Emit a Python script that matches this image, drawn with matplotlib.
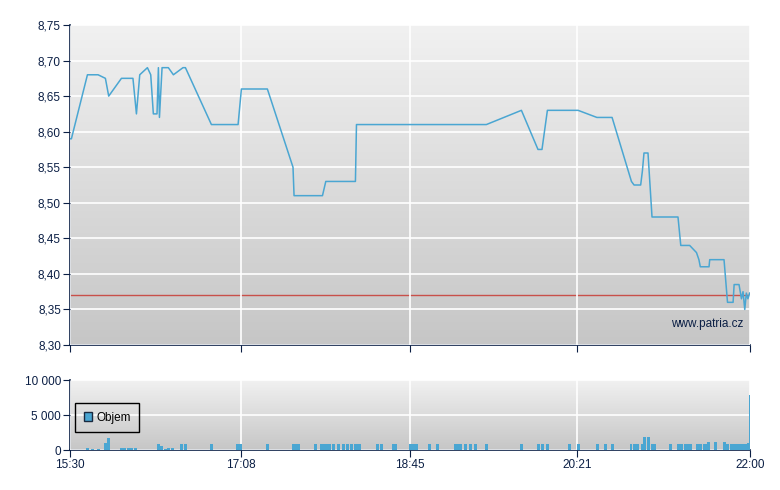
import matplotlib
matplotlib.use("Agg")
import matplotlib.pyplot as plt
import numpy as np
from matplotlib.patches import Patch

plt.rcParams['font.family'] = ['Liberation Sans', 'DejaVu Sans']

# price in minutes after 15:30
price_min = [0, 0.8, 10.0, 16.1, 20.3, 22.2, 29.5, 36.1, 38.1, 40.0, 44.4, 46.3, 47.8, 49.9,
             50.7, 51.3, 52.8, 56.4, 59.3, 64.8, 66.2, 81.1, 96.4, 98.3, 113.2, 127.9, 128.5,
             144.8, 146.7, 163.7, 164.3, 238.8, 258.9, 268.4, 270.7, 273.8, 291.4, 302.2,
             310.9, 322.0, 323.5, 327.3, 328.3, 329.2, 331.5, 333.8, 348.7, 350.3, 355.4,
             359.3, 360.7, 361.5, 366.5, 366.9, 375.1, 377.1, 380.3, 380.9, 383.7, 385.1,
             386.0, 387.0, 387.9, 388.8, 389.8]
price_val = [8.59, 8.59, 8.68, 8.68, 8.675, 8.65, 8.675, 8.675, 8.625, 8.68, 8.69, 8.68, 8.625, 8.625,
             8.69, 8.62, 8.69, 8.69, 8.68, 8.69, 8.69, 8.61, 8.61, 8.66, 8.66, 8.55, 8.51,
             8.51, 8.53, 8.53, 8.61, 8.61, 8.63, 8.575, 8.575, 8.63, 8.63, 8.62,
             8.62, 8.53, 8.525, 8.525, 8.545, 8.57, 8.57, 8.48, 8.48, 8.44, 8.44,
             8.43, 8.42, 8.41, 8.41, 8.42, 8.42, 8.36, 8.36, 8.385, 8.385, 8.365,
             8.375, 8.35, 8.373, 8.365, 8.373]
prev_close = 8.37

# volume bars (start minute, volume)
vol_min = [9.0, 11.9, 15.3, 19.3, 21.0, 28.5, 30.6, 32.6, 34.6, 36.6, 49.7, 51.4, 54.1, 55.6, 58.1,
           63.3, 65.2, 80.1, 95.4, 97.2, 112.2, 127.2, 128.9, 130.4, 139.8, 143.2, 145.0, 146.8,
           148.0, 150.5, 153.1, 155.8, 158.1, 160.4, 162.7, 164.4, 165.2, 175.3, 177.6, 184.5,
           185.9, 194.3, 196.0, 197.7, 205.2, 209.7, 220.1, 221.8, 223.3, 225.8, 228.7, 231.6,
           237.8, 257.9, 267.7, 270.0, 272.8, 285.4, 290.6, 301.5, 306.1, 310.1, 320.9, 322.7,
           324.9, 327.2, 328.9, 330.7, 333.0, 334.4, 343.3, 347.9, 349.6, 351.9, 353.6, 355.0,
           358.8, 360.6, 362.8, 364.2, 365.6, 369.1, 374.3, 376.1, 378.4, 380.2, 382.0, 383.8,
           385.6, 386.6, 388.1, 389.3]
vol_val = [300, 150, 150, 1050, 1700, 330, 330, 330, 330, 330, 860, 520, 150, 330, 330,
           900, 900, 900, 900, 900, 900, 900, 900, 900, 900, 900, 900, 900,
           900, 900, 900, 900, 900, 900, 900, 900, 900, 900, 900, 900,
           900, 900, 900, 900, 900, 900, 900, 900, 900, 900, 900, 900,
           900, 900, 900, 900, 900, 900, 900, 900, 900, 900, 900, 900,
           900, 900, 1850, 1850, 900, 900, 900, 900, 900, 900, 900, 900,
           900, 900, 900, 900, 1200, 1200, 1200, 900, 900, 900, 900, 900,
           900, 900, 1050, 7900]

tick_min = [0, 98, 195, 291, 390]
tick_lbl = ['15:30', '17:08', '18:45', '20:21', '22:00']
price_ticks = [8.30, 8.35, 8.40, 8.45, 8.50, 8.55, 8.60, 8.65, 8.70, 8.75]
vol_ticks = [0, 5000, 10000]
vol_lbl = ['0', '5 000', '10 000']

navy = '#0b1f45'
blue = '#4aa6d2'


def background(ax):
    grad = np.linspace(0, 1, 256).reshape(-1, 1)
    cmap = matplotlib.colors.LinearSegmentedColormap.from_list('bg', ['#c6c6c6', '#f1f1f1'])
    ax.imshow(grad, aspect='auto', cmap=cmap, extent=(0, 1, 0, 1), origin='lower',
              transform=ax.transAxes, zorder=0)


def style(ax):
    for s in ['top', 'right']:
        ax.spines[s].set_visible(False)
    for s in ['left', 'bottom']:
        ax.spines[s].set_color(navy)
        ax.spines[s].set_linewidth(1.2)
    ax.tick_params(direction='out', length=5, pad=1.5, color=navy, labelcolor=navy, labelsize=8.5)
    ax.set_xticks(tick_min)
    ax.grid(True, color='white', linewidth=1.2, zorder=1)
    ax.set_axisbelow(False)
    ax.set_xlim(0, 390)


fig = plt.figure(figsize=(7.8, 4.9), dpi=100)
ax1 = fig.add_axes([70 / 780, 1 - 345 / 490, 680 / 780, 320 / 490])
ax2 = fig.add_axes([70 / 780, 1 - 450 / 490, 680 / 780, 70 / 490])

background(ax1)
style(ax1)
ax1.set_ylim(8.30, 8.75)
ax1.set_yticks(price_ticks)
ax1.set_yticklabels([f'{v:.2f}'.replace('.', ',') for v in price_ticks])
ax1.set_xticklabels([])
ax1.axhline(prev_close, color='#c8504a', linewidth=1, zorder=2)
ax1.plot(price_min, price_val, color=blue, linewidth=1.1, zorder=3)
ax1.text(0.99, 0.066, 'www.patria.cz', transform=ax1.transAxes, ha='right', va='center',
         color=navy, fontsize=8.5, zorder=4)
ax1.set_xlim(0, 390)

background(ax2)
style(ax2)
ax2.set_ylim(0, 10000)
ax2.set_yticks(vol_ticks)
ax2.set_yticklabels(vol_lbl)
ax2.set_xticklabels(tick_lbl)
ax2.bar(vol_min, vol_val, width=1.7, align='edge', color=blue, linewidth=0, zorder=3)
ax2.set_xlim(0, 390)
leg = ax2.legend(handles=[Patch(facecolor=blue, edgecolor='#1a2a40', label='Objem')],
                 loc='lower left', bbox_to_anchor=(0.008, 0.26), borderaxespad=0,
                 fancybox=False, framealpha=1, edgecolor='black', fontsize=8.5,
                 handlelength=0.7, handleheight=0.7, handletextpad=0.4, borderpad=0.7)
leg.get_frame().set_facecolor('none')
leg.get_frame().set_linewidth(1.0)
leg.set_zorder(5)

fig.savefig('out.png', dpi=100)
